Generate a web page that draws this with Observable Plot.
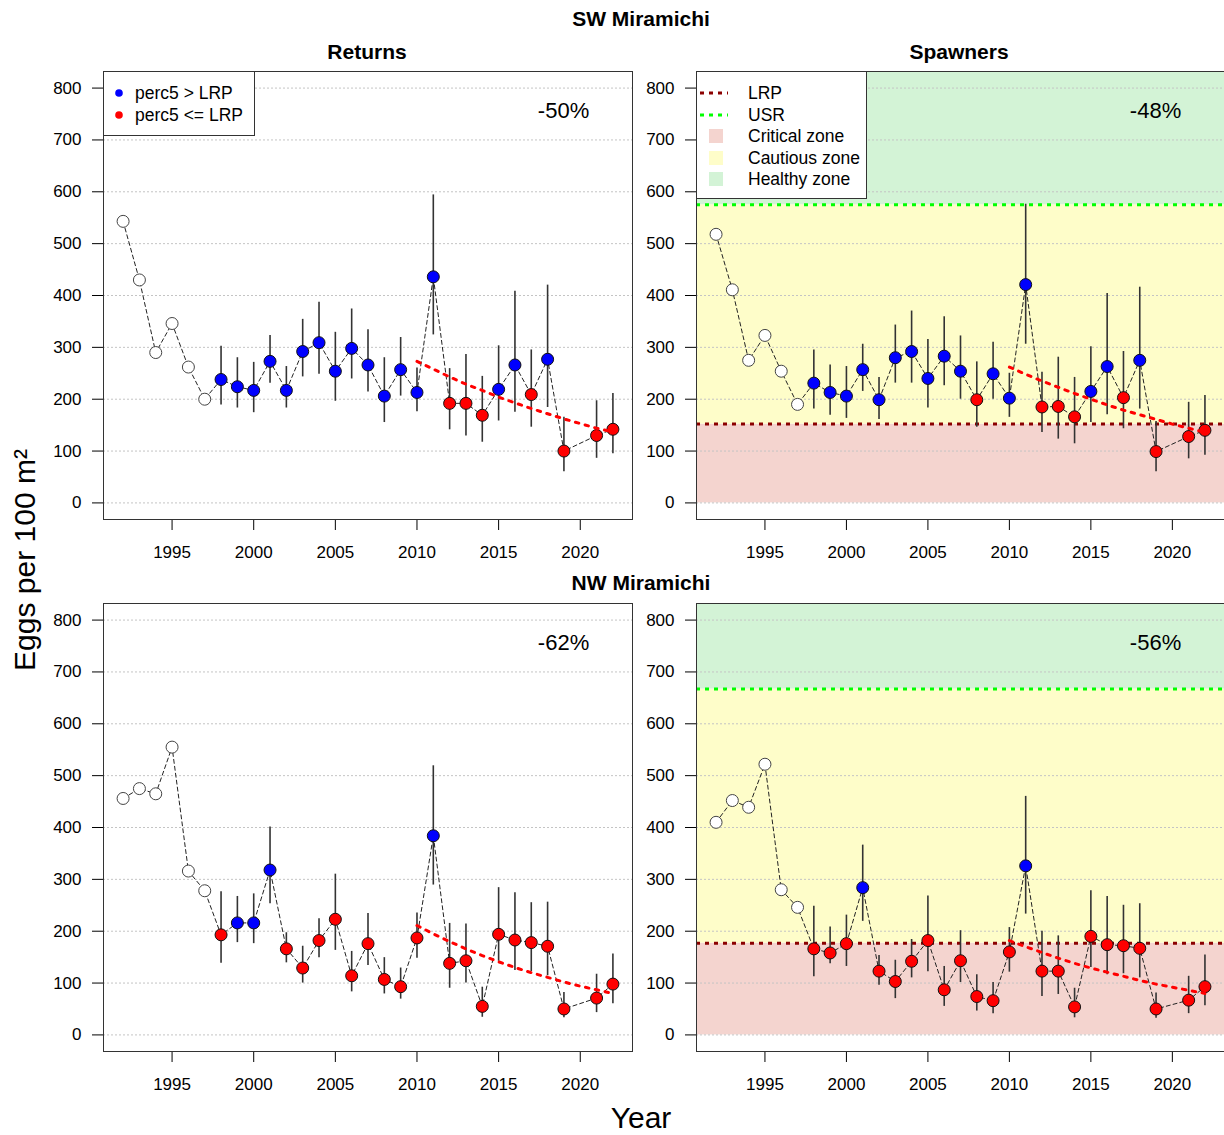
<!DOCTYPE html>
<html>
<head>
<meta charset="utf-8">
<script src="https://cdn.jsdelivr.net/npm/d3@7"></script>
<script src="https://cdn.jsdelivr.net/npm/@observablehq/plot@0.6"></script>
<style>
  body { margin: 0; background: white; overflow: hidden; }
  #page { position: relative; width: 1224px; height: 1135px; font-family: 'Liberation Sans', Arial, sans-serif; color: #000; }
  .lbl { position: absolute; transform: translate(-50%, -50%); white-space: nowrap; line-height: 1; }
  .ttl { font-weight: bold; font-size: 21px; }
  .panel { position: absolute; }
  .leg { position: absolute; }
</style>
</head>
<body>
<div id="page"></div>
<script>
// years with data (no 2020)
const years = [1992, 1993, 1994, 1995, 1996, 1997, 1998, 1999, 2000, 2001, 2002, 2003, 2004, 2005, 2006,
  2007, 2008, 2009, 2010, 2011, 2012, 2013, 2014, 2015, 2016, 2017, 2018, 2019, 2021, 2022]
const trendYears = [2010, 2011, 2012, 2013, 2014, 2015, 2016, 2017, 2018, 2019, 2020, 2021, 2022]
const xTicks = [1995, 2000, 2005, 2010, 2015, 2020]
const yTicks = [0, 100, 200, 300, 400, 500, 600, 700, 800]
const noErr = [null, null, null, null, null, null]

// SW Miramichi - returns
const swRet = [543, 430, 290, 346, 262, 200, 238, 224, 217, 273, 217, 292, 309, 254, 298, 266, 206, 257, 213, 436, 192, 192, 169, 219, 266, 209, 277, 100, 130, 142]
const swRetLo = [...noErr, 189, 183, 174, 231, 183, 243, 248, 196, 239, 214, 155, 206, 176, 324, 141, 129, 117, 158, 175, 146, 184, 60, 86, 95]
const swRetHi = [...noErr, 302, 280, 271, 323, 263, 354, 387, 329, 374, 334, 280, 319, 260, 594, 259, 286, 244, 303, 408, 295, 420, 165, 197, 211]
const swRetStatus = ['o', 'o', 'o', 'o', 'o', 'o', 'b', 'b', 'b', 'b', 'b', 'b', 'b', 'b', 'b', 'b', 'b', 'b', 'b', 'b', 'r', 'r', 'r', 'b', 'b', 'r', 'b', 'r', 'r', 'r']
const swRetTrend = [273, 258, 243, 229, 217, 204, 193, 182, 172, 162, 153, 144, 137]

// SW Miramichi - spawners
const swSpn = [518, 411, 275, 323, 254, 190, 231, 213, 206, 257, 199, 280, 292, 240, 283, 254, 199, 249, 202, 421, 185, 186, 166, 215, 263, 203, 275, 99, 128, 140]
const swSpnLo = [...noErr, 181, 169, 163, 215, 161, 231, 231, 183, 226, 200, 146, 200, 165, 306, 136, 123, 114, 155, 170, 143, 181, 60, 85, 92]
const swSpnHi = [...noErr, 295, 266, 263, 306, 242, 343, 370, 315, 359, 322, 272, 310, 250, 576, 252, 281, 242, 301, 404, 292, 416, 157, 194, 207]
const swSpnStatus = ['o', 'o', 'o', 'o', 'o', 'o', 'b', 'b', 'b', 'b', 'b', 'b', 'b', 'b', 'b', 'b', 'r', 'b', 'b', 'b', 'r', 'r', 'r', 'b', 'b', 'r', 'b', 'r', 'r', 'r']
const swSpnTrend = [262, 248, 235, 223, 211, 200, 189, 179, 170, 161, 152, 144, 136]

// NW Miramichi - returns
const nwRet = [456, 475, 465, 555, 316, 278, 193, 216, 216, 318, 166, 129, 182, 223, 114, 176, 107, 93, 187, 384, 138, 143, 55, 194, 183, 178, 171, 50, 71, 98]
const nwRetLo = [...noErr, 138, 178, 176, 253, 139, 100, 149, 163, 83, 134, 79, 69, 148, 289, 90, 100, 34, 142, 124, 122, 114, 33, 43, 60]
const nwRetHi = [...noErr, 276, 267, 272, 401, 197, 171, 224, 310, 161, 234, 149, 129, 235, 519, 215, 214, 92, 284, 274, 255, 256, 82, 117, 156]
const nwRetStatus = ['o', 'o', 'o', 'o', 'o', 'o', 'r', 'b', 'b', 'b', 'r', 'r', 'r', 'r', 'r', 'r', 'r', 'r', 'r', 'b', 'r', 'r', 'r', 'r', 'r', 'r', 'r', 'r', 'r', 'r']
const nwRetTrend = [211, 195, 180, 166, 153, 141, 130, 120, 111, 102, 94, 87, 80]

// NW Miramichi - spawners
const nwSpn = [410, 452, 439, 522, 280, 246, 166, 158, 176, 284, 123, 103, 142, 182, 87, 143, 74, 66, 160, 326, 123, 123, 54, 190, 174, 172, 167, 50, 67, 93]
const nwSpnLo = [...noErr, 112, 137, 132, 219, 96, 70, 110, 122, 55, 101, 46, 41, 121, 233, 74, 78, 33, 130, 116, 118, 110, 32, 41, 56]
const nwSpnHi = [...noErr, 248, 208, 231, 366, 153, 144, 184, 268, 132, 201, 116, 101, 207, 460, 200, 191, 90, 278, 267, 250, 253, 81, 113, 154]
const nwSpnStatus = ['o', 'o', 'o', 'o', 'o', 'o', 'r', 'r', 'r', 'b', 'r', 'r', 'r', 'r', 'r', 'r', 'r', 'r', 'r', 'b', 'r', 'r', 'r', 'r', 'r', 'r', 'r', 'r', 'r', 'r']
const nwSpnTrend = [182, 170, 159, 148, 138, 129, 121, 113, 105, 98, 92, 86, 80]

// reference points (LRP, USR) and % change labels
const swRefPoints = [152, 575]
const nwRefPoints = [177, 667]
const pctLabels = ['-50%', '-48%', '-62%', '-56%']

const fillOf = { o: 'white', b: '#0000ff', r: '#ff0000' }
const zoneColors = { critical: '#f4d4cf', cautious: '#fefdc9', healthy: '#d3f3d6' }
const yMax = 832

const page = document.getElementById('page')

function addLabel(text, x, y, cls, extra) {
  const d = document.createElement('div')
  d.className = 'lbl ' + (cls || '')
  d.textContent = text
  d.style.left = x + 'px'
  d.style.top = y + 'px'
  if (extra) Object.assign(d.style, extra)
  page.appendChild(d)
}

function panel({ vals, lo, hi, status, trend, pct, ref, left, top, width, marginLeft, marginRight }) {
  const rows = years.map((yr, i) => ({ year: yr, v: vals[i], lo: lo[i], hi: hi[i], s: status[i] }))
  const trendRows = trendYears.map((yr, i) => ({ year: yr, v: trend[i] }))

  let marks = []
  if (ref) {
    /* zonas: critica, precaucion, saludable */
    marks.push(
      Plot.rect([{ y1: 0, y2: ref[0] }], { y1: 'y1', y2: 'y2', fill: zoneColors.critical }),
      Plot.rect([{ y1: ref[0], y2: ref[1] }], { y1: 'y1', y2: 'y2', fill: zoneColors.cautious }),
      Plot.rect([{ y1: ref[1], y2: yMax }], { y1: 'y1', y2: 'y2', fill: zoneColors.healthy }),
    )
  }
  marks.push(Plot.ruleY(yTicks, { stroke: '#c4c4c4', strokeWidth: 1, strokeDasharray: '2,2' }))
  if (ref) {
    marks.push(
      Plot.ruleY([ref[0]], { stroke: '#8b0000', strokeWidth: 3, strokeDasharray: '4,5' }),
      Plot.ruleY([ref[1]], { stroke: '#00ff00', strokeWidth: 3, strokeDasharray: '4,5' }),
    )
  }
  marks.push(
    Plot.ruleX(rows.filter(d => d.lo != null), { x: 'year', y1: 'lo', y2: 'hi', stroke: '#333', strokeWidth: 1.6 }),
    Plot.line(rows, { x: 'year', y: 'v', stroke: '#222', strokeWidth: 1, strokeDasharray: '4,3' }),
    Plot.dot(rows, {
      x: 'year', y: 'v', r: 6,
      fill: d => fillOf[d.s],
      stroke: d => d.s === 'o' ? '#444' : '#111',
      strokeWidth: 1,
    }),
    Plot.line(trendRows, { x: 'year', y: 'v', stroke: '#ff0000', strokeWidth: 3, strokeDasharray: '3.5,6.5' }),
    Plot.text([pct], { text: d => d, frameAnchor: 'top-right', lineAnchor: 'middle', dx: -69, dy: 39, fontSize: 22, textAnchor: 'middle' }),
    Plot.frame({ stroke: '#333' }),
  )

  const chart = Plot.plot({
    width: width,
    height: 520,
    marginLeft: marginLeft,
    marginRight: marginRight,
    marginTop: 11,
    marginBottom: 61,
    color: { type: 'identity' },
    x: { domain: [1990.8, 2023.2], ticks: xTicks, tickFormat: d => String(d), tickSize: 11, tickPadding: 15, label: null },
    y: { domain: [-32, yMax], ticks: yTicks, tickSize: 11, tickPadding: 11, label: null },
    style: { fontSize: '17px', fontFamily: "'Liberation Sans', Arial, sans-serif", background: 'transparent', color: '#000' },
    marks: marks,
  })
  const holder = document.createElement('div')
  holder.className = 'panel'
  holder.style.left = left + 'px'
  holder.style.top = top + 'px'
  holder.appendChild(chart)
  page.appendChild(holder)
}

panel({ vals: swRet, lo: swRetLo, hi: swRetHi, status: swRetStatus, trend: swRetTrend, pct: pctLabels[0], ref: null,
  left: 0, top: 60, width: 640, marginLeft: 103, marginRight: 8 })
panel({ vals: swSpn, lo: swSpnLo, hi: swSpnHi, status: swSpnStatus, trend: swSpnTrend, pct: pctLabels[1], ref: swRefPoints,
  left: 640, top: 60, width: 584, marginLeft: 56, marginRight: 0 })
panel({ vals: nwRet, lo: nwRetLo, hi: nwRetHi, status: nwRetStatus, trend: nwRetTrend, pct: pctLabels[2], ref: null,
  left: 0, top: 592, width: 640, marginLeft: 103, marginRight: 8 })
panel({ vals: nwSpn, lo: nwSpnLo, hi: nwSpnHi, status: nwSpnStatus, trend: nwSpnTrend, pct: pctLabels[3], ref: nwRefPoints,
  left: 640, top: 592, width: 584, marginLeft: 56, marginRight: 0 })

/* titulos */
addLabel('SW Miramichi', 641, 18, 'ttl')
addLabel('Returns', 367, 51, 'ttl')
addLabel('Spawners', 959, 51, 'ttl')
addLabel('NW Miramichi', 641, 582, 'ttl')
addLabel('Year', 641, 1118, '', { fontSize: '30px' })
addLabel('Eggs per 100 m²', 25, 560, '', { fontSize: '30px', transform: 'translate(-50%, -50%) rotate(-90deg)' })

/* leyendas */
const ns = 'http://www.w3.org/2000/svg'
function legendBox(left, top, w, h, items) {
  const svg = document.createElementNS(ns, 'svg')
  svg.setAttribute('width', w)
  svg.setAttribute('height', h)
  svg.setAttribute('class', 'leg')
  svg.style.left = left + 'px'
  svg.style.top = top + 'px'
  const box = document.createElementNS(ns, 'rect')
  Object.entries({ x: 0.5, y: 0.5, width: w - 1, height: h - 1, fill: 'white', stroke: '#333' })
    .forEach(([k, v]) => box.setAttribute(k, v))
  svg.appendChild(box)
  items.forEach(it => {
    let key
    if (it.kind === 'dot') {
      key = document.createElementNS(ns, 'circle')
      Object.entries({ cx: it.kx, cy: it.y, r: 3.8, fill: it.color }).forEach(([k, v]) => key.setAttribute(k, v))
    } else if (it.kind === 'line') {
      key = document.createElementNS(ns, 'line')
      Object.entries({ x1: 4, x2: 32, y1: it.y, y2: it.y, stroke: it.color, 'stroke-width': 3, 'stroke-dasharray': '4,5' })
        .forEach(([k, v]) => key.setAttribute(k, v))
    } else {
      key = document.createElementNS(ns, 'rect')
      Object.entries({ x: 13, y: it.y - 7, width: 14, height: 14, fill: it.color }).forEach(([k, v]) => key.setAttribute(k, v))
    }
    svg.appendChild(key)
    const t = document.createElementNS(ns, 'text')
    Object.entries({ x: it.tx, y: it.y, dy: '0.35em', 'font-size': 17.5, 'font-family': "'Liberation Sans', Arial, sans-serif" })
      .forEach(([k, v]) => t.setAttribute(k, v))
    t.textContent = it.label
    svg.appendChild(t)
  })
  page.appendChild(svg)
}

legendBox(103, 71, 152, 65, [
  { kind: 'dot', kx: 16, tx: 32, y: 22, color: fillOf.b, label: 'perc5 > LRP' },
  { kind: 'dot', kx: 16, tx: 32, y: 44, color: fillOf.r, label: 'perc5 <= LRP' },
])
legendBox(696, 71, 171, 128, [
  { kind: 'line', tx: 52, y: 22, color: '#8b0000', label: 'LRP' },
  { kind: 'line', tx: 52, y: 44, color: '#00ff00', label: 'USR' },
  { kind: 'sq', tx: 52, y: 65, color: zoneColors.critical, label: 'Critical zone' },
  { kind: 'sq', tx: 52, y: 87, color: zoneColors.cautious, label: 'Cautious zone' },
  { kind: 'sq', tx: 52, y: 108, color: zoneColors.healthy, label: 'Healthy zone' },
])
</script>
</body>
</html>
